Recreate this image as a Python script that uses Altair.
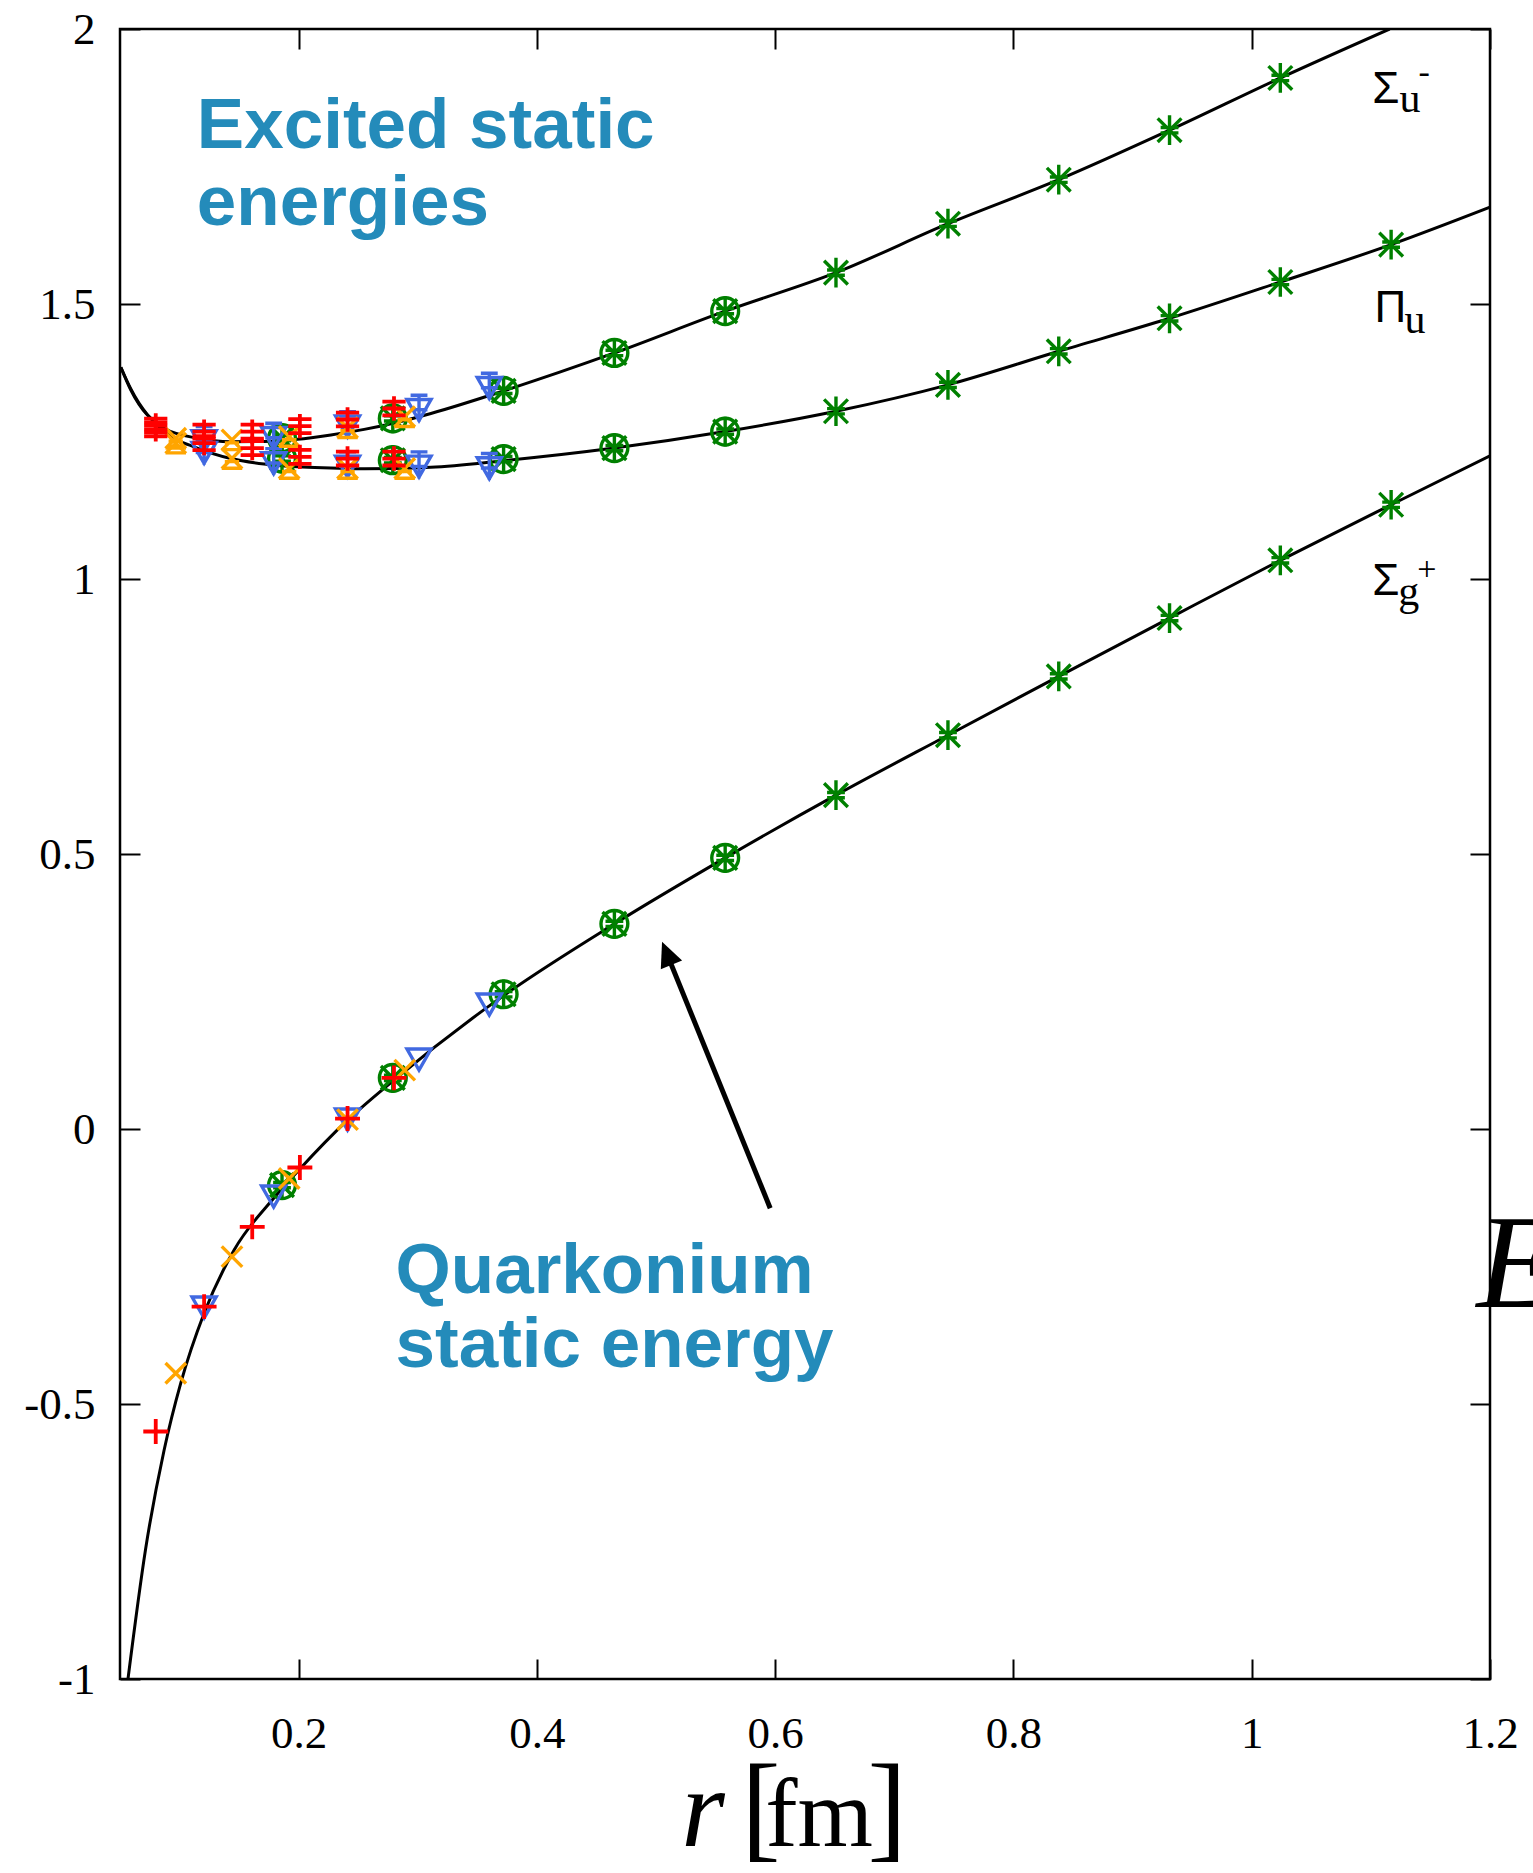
import altair as alt
import pandas as pd

# ---------------- data ----------------
# fitted curves (r [fm], E)
sg_curve_r = [0.0567, 0.0714, 0.087, 0.101, 0.1206, 0.1458, 0.179, 0.200, 0.241, 0.280, 0.369,
              0.465, 0.558, 0.651, 0.745, 0.838, 0.931, 1.024, 1.117, 1.200]
sg_curve_E = [-1.0, -0.765, -0.584, -0.462, -0.335, -0.220, -0.126, -0.075, 0.016, 0.089, 0.238,
              0.373, 0.493, 0.607, 0.716, 0.823, 0.929, 1.034, 1.135, 1.224]
pu_curve_r = [0.0507, 0.059, 0.087, 0.115, 0.143, 0.171, 0.199, 0.227, 0.255, 0.283, 0.311, 0.372,
              0.465, 0.558, 0.651, 0.745, 0.838, 0.931, 1.024, 1.117, 1.200]
pu_curve_E = [1.385, 1.346, 1.268, 1.238, 1.219, 1.209, 1.204, 1.202, 1.2006, 1.201, 1.203, 1.215,
              1.238, 1.268, 1.305, 1.353, 1.414, 1.474, 1.540, 1.608, 1.676]
su_curve_r = [0.0507, 0.059, 0.087, 0.115, 0.143, 0.171, 0.199, 0.227, 0.255, 0.283, 0.311, 0.372,
              0.465, 0.558, 0.651, 0.745, 0.838, 0.931, 1.024, 1.1157]
su_curve_E = [1.385, 1.344, 1.274, 1.256, 1.2497, 1.250, 1.254, 1.262, 1.272, 1.285, 1.301, 1.342,
              1.411, 1.487, 1.557, 1.646, 1.726, 1.816, 1.911, 2.0]

# red plus points
red_r = [0.080, 0.1206, 0.161, 0.201, 0.241, 0.280]
red_sg = [-0.550, -0.323, -0.178, -0.070, 0.019, 0.093]
red_pu = [1.272, 1.247, 1.238, 1.222, 1.219, 1.219]
red_su = [1.279, 1.268, 1.268, 1.278, 1.290, 1.310]
# orange cross points
orange_r = [0.0968, 0.144, 0.192, 0.241, 0.289]
orange_sg = [-0.444, -0.232, -0.090, 0.017, 0.107]
orange_pu = [1.247, 1.219, 1.201, 1.201, 1.201]
orange_su = [1.256, 1.253, 1.259, 1.275, 1.295]
# blue down-triangle points
blue_r = [0.1206, 0.179, 0.241, 0.301, 0.360]
blue_sg = [-0.322, -0.120, 0.020, 0.129, 0.229]
blue_pu = [1.232, 1.213, 1.207, 1.207, 1.204]
blue_su = [1.253, 1.259, 1.280, 1.310, 1.350]
# green circles
gc_r = [0.186, 0.279, 0.372, 0.465, 0.558]
gc_sg = [-0.102, 0.093, 0.245, 0.373, 0.493]
gc_pu = [1.219, 1.216, 1.218, 1.238, 1.268]
gc_su = [1.256, 1.292, 1.342, 1.411, 1.487]
# green asterisks
ga_r = [0.186, 0.279, 0.372, 0.465, 0.558, 0.651, 0.745, 0.838, 0.931, 1.024, 1.117]
ga_sg = [-0.102, 0.093, 0.245, 0.373, 0.493, 0.607, 0.716, 0.823, 0.929, 1.034, 1.135]
ga_pu = [1.219, 1.216, 1.218, 1.238, 1.268, 1.305, 1.353, 1.414, 1.474, 1.540, 1.608]
ga_su = [1.256, 1.292, 1.342, 1.411, 1.487, 1.557, 1.646, 1.726, 1.816, 1.911]

x_ticks = [0.2, 0.4, 0.6, 0.8, 1.0, 1.2]
y_ticks = [-1, -0.5, 0, 0.5, 1, 1.5, 2]

# annotations (text, r, E)
blue_text = ["Excited static", "energies", "Quarkonium", "static energy"]
blue_text_r = [0.1145, 0.1145, 0.2813, 0.2813]
blue_text_E = [1.7836, 1.6436, -0.2982, -0.4327]
greek_text = ["Σ", "Π", "Σ"]
greek_r = [1.1012, 1.1031, 1.1012]
greek_E = [1.8655, 1.4673, 0.9709]
sub_text = ["u", "u", "g"]
sub_r = [1.1241, 1.1283, 1.1230]
sub_E = [1.8491, 1.4473, 0.9527]
sup_text = ["-", "+"]
sup_r = [1.1400, 1.1390]
sup_E = [1.9018, 0.9982]
arrow_tail = [0.5958, -0.144]
arrow_base = [0.5097, 0.3153]
arrow_tip = [0.505, 0.3405]

# ---------------- build tables ----------------
curves = pd.concat([
    pd.DataFrame({"curve": "Sg", "r": sg_curve_r, "E": sg_curve_E}),
    pd.DataFrame({"curve": "Pu", "r": pu_curve_r, "E": pu_curve_E}),
    pd.DataFrame({"curve": "Su", "r": su_curve_r, "E": su_curve_E}),
])

def pts(rs, *series):
    rows = []
    for s in series:
        for r, e in zip(rs, s):
            rows.append({"r": r, "E": e})
    return pd.DataFrame(rows)

xs = alt.Scale(domain=[0.05, 1.2], nice=False, zero=False)
ys = alt.Scale(domain=[-1, 2], nice=False, zero=False)
X = lambda **kw: alt.X("r:Q", scale=xs, **kw)
Y = lambda **kw: alt.Y("E:Q", scale=ys, **kw)

lab_common = dict(labelFont="Liberation Serif", labelFontSize=45, labelColor="black",
                  tickColor="black", tickWidth=2, domain=False, grid=False, title=None,
                  offset=-20, tickSize=20, labelExpr="datum.value + ''",
                  labelOverlap=False, labelFlush=False)
ax_bottom = alt.Axis(orient="bottom", values=x_ticks, labelPadding=32, **lab_common)
ax_left = alt.Axis(orient="left", values=y_ticks, labelPadding=25, **lab_common)
ax_top = alt.Axis(orient="top", values=x_ticks, labels=False, offset=-20, tickSize=20,
                  tickColor="black", tickWidth=2, domain=False, grid=False, title=None)
ax_right = alt.Axis(orient="right", values=y_ticks, labels=False, offset=-20, tickSize=20,
                    tickColor="black", tickWidth=2, domain=False, grid=False, title=None)

lines = alt.Chart(curves).mark_line(clip=True, interpolate="monotone", color="black",
                                    strokeWidth=3).encode(
    x=X(axis=ax_bottom), y=Y(axis=ax_left), detail="curve:N")
frame_axes = alt.Chart(curves).mark_line(opacity=0).encode(
    x=X(axis=ax_top), y=Y(axis=ax_right), detail="curve:N")

PLUS = "M-1,0L1,0M0,-1L0,1"
PLUS_EB = "M-1,0L1,0M0,-1.05L0,1.05M-1,-0.6L1,-0.6M-1,0.6L1,0.6"
CROSS = "M-1,-1L1,1M-1,1L1,-1"
CROSS_EB = "M-1,-1L1,1M-1,1L1,-1M-1,0.95L1,0.95M-0.7,0.3L0.7,0.3"
TRI = "M-1,-0.75L1,-0.75L0,1Z"
TRI_EB = "M-1,-0.75L1,-0.75L0,1ZM0,-1.1L0,1.1M-0.7,-1.1L0.7,-1.1M-0.7,0.1L0.7,0.1"
AST = "M0,-1L0,1M-0.8,-0.8L0.8,0.8M-0.8,0.8L0.8,-0.8M-0.6,-0.18L0.6,-0.18M-0.6,0.18L0.6,0.18"

def marks(df, shape, color, size, sw=3.4):
    return alt.Chart(df).mark_point(shape=shape, filled=False, color=color, size=size,
                                    strokeWidth=sw, opacity=1, clip=True).encode(
        x=X(axis=None), y=Y(axis=None))

layers = [lines, frame_axes]
# green circles and asterisks
layers.append(marks(pts(gc_r, gc_sg, gc_pu, gc_su), "circle", "#008000", 720, 3.4))
layers.append(marks(pts(ga_r, ga_sg, ga_pu, ga_su), AST, "#008000", 880, 3.4))
# blue
layers.append(marks(pts(blue_r, blue_sg), TRI, "#4169E1", 580))
layers.append(marks(pts(blue_r, blue_pu, blue_su), TRI_EB, "#4169E1", 580))
# orange
layers.append(marks(pts(orange_r, orange_sg), CROSS, "#FFA500", 420))
layers.append(marks(pts(orange_r, orange_pu, orange_su), CROSS_EB, "#FFA500", 420))
# red
layers.append(marks(pts(red_r, red_sg), PLUS, "#FF0000", 620, 3.8))
layers.append(marks(pts(red_r, red_pu, red_su), PLUS_EB, "#FF0000", 540, 3.8))

# arrow
arrow_df = pd.DataFrame({"r": [arrow_tail[0]], "E": [arrow_tail[1]],
                         "r2": [arrow_base[0]], "E2": [arrow_base[1]]})
layers.append(alt.Chart(arrow_df).mark_rule(color="black", strokeWidth=5).encode(
    x=X(axis=None), y=Y(axis=None), x2="r2:Q", y2="E2:Q"))
tip_df = pd.DataFrame({"r": [arrow_tip[0]], "E": [arrow_tip[1]]})
layers.append(alt.Chart(tip_df).mark_point(shape="M0,0L-0.46,1L0.46,1Z", filled=True,
                                           color="black", size=2500, opacity=1,
                                           angle=337.9).encode(
    x=X(axis=None), y=Y(axis=None)))

def text_layer(texts, rs, es, **kw):
    df = pd.DataFrame({"t": texts, "r": rs, "E": es})
    return alt.Chart(df).mark_text(align="left", baseline="alphabetic", **kw).encode(
        x=X(axis=None), y=Y(axis=None), text="t:N")

layers.append(text_layer(blue_text, blue_text_r, blue_text_E, font="Liberation Sans",
                         fontWeight="bold", fontSize=71, color="#248BBA"))
layers.append(text_layer(greek_text, greek_r, greek_E, font="Liberation Sans",
                         fontSize=44, color="black"))
layers.append(text_layer(sub_text, sub_r, sub_E, font="Liberation Serif",
                         fontSize=42, color="black"))
layers.append(text_layer(sup_text, sup_r, sup_E, font="Liberation Serif",
                         fontSize=34, color="black"))
# axis title r[fm] and cut-off E label
layers.append(text_layer(["r"], [0.5212], [-1.3036], font="Liberation Serif",
                         fontStyle="italic", fontSize=112, color="black"))
layers.append(text_layer(["[", "]"], [0.5714, 0.6774], [-1.3036, -1.3036],
                         font="Liberation Serif", fontSize=118, color="black"))
layers.append(text_layer(["fm"], [0.5916], [-1.3036], font="Liberation Serif",
                         fontSize=97, color="black"))
layers.append(text_layer(["E"], [1.1887], [-0.3236], font="Liberation Serif",
                         fontStyle="italic", fontSize=134, color="black"))

chart = alt.layer(*layers).properties(
    width=1370, height=1650,
    autosize=alt.AutoSizeParams(type="none"),
    padding={"left": 120, "top": 29, "right": 43, "bottom": 194},
    background="white",
).configure_view(stroke="black", strokeWidth=2.5)

chart.save("out.html", embed_options={"renderer": "svg", "actions": False})
